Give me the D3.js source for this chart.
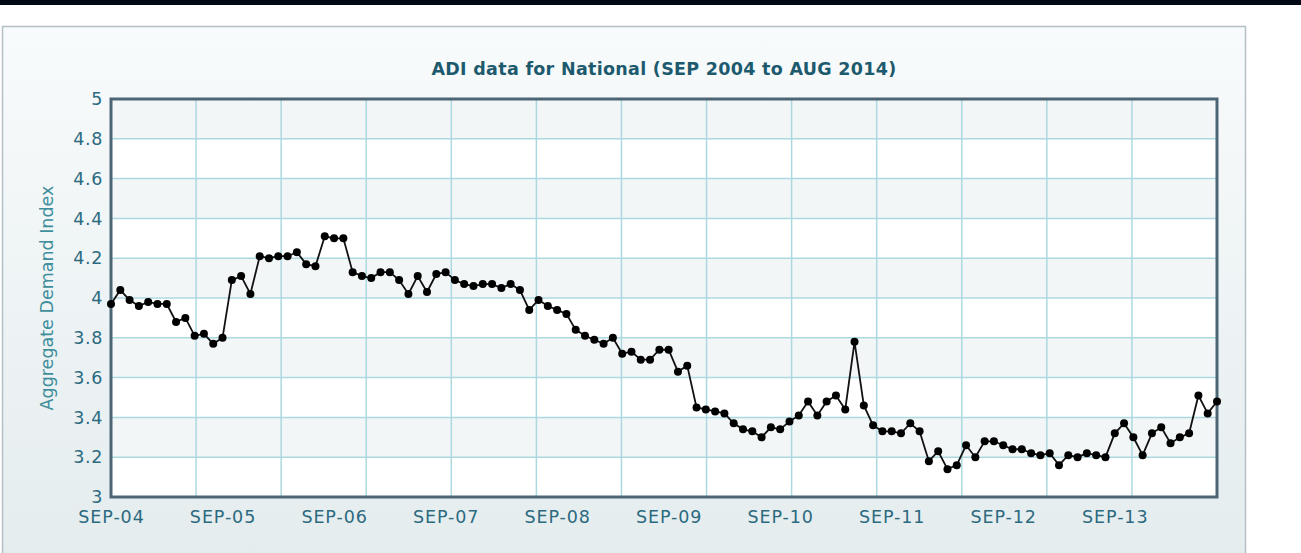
<!DOCTYPE html>
<html>
<head>
<meta charset="utf-8">
<script src="https://cdn.jsdelivr.net/npm/d3@7"></script>
<style>
  body { margin: 0; background: #fff; }
  svg { display: block; font-family: "DejaVu Sans", Verdana, sans-serif; }
</style>
</head>
<body>
<svg id="chart"></svg>
<script>
// ADI monthly values, SEP 2004 .. AUG 2014 (120 months)
var adiValues = [
  3.97, 4.04, 3.99, 3.96, 3.98, 3.97, 3.97, 3.88, 3.90, 3.81, 3.82, 3.77,
  3.80, 4.09, 4.11, 4.02, 4.21, 4.20, 4.21, 4.21, 4.23, 4.17, 4.16, 4.31,
  4.30, 4.30, 4.13, 4.11, 4.10, 4.13, 4.13, 4.09, 4.02, 4.11, 4.03, 4.12,
  4.13, 4.09, 4.07, 4.06, 4.07, 4.07, 4.05, 4.07, 4.04, 3.94, 3.99, 3.96,
  3.94, 3.92, 3.84, 3.81, 3.79, 3.77, 3.80, 3.72, 3.73, 3.69, 3.69, 3.74,
  3.74, 3.63, 3.66, 3.45, 3.44, 3.43, 3.42, 3.37, 3.34, 3.33, 3.30, 3.35,
  3.34, 3.38, 3.41, 3.48, 3.41, 3.48, 3.51, 3.44, 3.78, 3.46, 3.36, 3.33,
  3.33, 3.32, 3.37, 3.33, 3.18, 3.23, 3.14, 3.16, 3.26, 3.20, 3.28, 3.28,
  3.26, 3.24, 3.24, 3.22, 3.21, 3.22, 3.16, 3.21, 3.20, 3.22, 3.21, 3.20,
  3.32, 3.37, 3.30, 3.21, 3.32, 3.35, 3.27, 3.30, 3.32, 3.51, 3.42, 3.48
];
var xTickLabels = ["SEP-04", "SEP-05", "SEP-06", "SEP-07", "SEP-08",
  "SEP-09", "SEP-10", "SEP-11", "SEP-12", "SEP-13"];
var yTicks = [3, 3.2, 3.4, 3.6, 3.8, 4, 4.2, 4.4, 4.6, 4.8, 5];
var chartTitle = "ADI data for National (SEP 2004 to AUG 2014)";
var yAxisTitle = "Aggregate Demand Index";

var width = 1301, height = 553;
var margins = { left: 111, right: 84, top: 99, bottom: 56 };
var numVDivs = 13;

var svg = d3.select("svg#chart").attr("width", width).attr("height", height);

var defs = svg.append("defs");
var grad = defs.append("linearGradient").attr("id", "panelBg")
  .attr("x1", 0).attr("y1", 0).attr("x2", 0).attr("y2", 1);
grad.append("stop").attr("offset", "0%").attr("stop-color", "#f8fbfc");
grad.append("stop").attr("offset", "100%").attr("stop-color", "#e4ecee");

// dark strip at the very top
svg.append("rect").attr("x", 0).attr("y", 0).attr("width", width).attr("height", 5)
  .attr("fill", "#000814");

// chart panel
svg.append("rect")
  .attr("x", 2.5).attr("y", 26.5)
  .attr("width", 1243).attr("height", 540)
  .attr("fill", "url(#panelBg)")
  .attr("stroke", "#b4c0c8").attr("stroke-width", 1.5);

var xScale = d3.scaleLinear()
  .domain([0, adiValues.length - 1])
  .range([margins.left, width - margins.right]);
var yScale = d3.scaleLinear()
  .domain([3, 5])
  .range([height - margins.bottom, margins.top]);
var divScale = d3.scaleLinear()
  .domain([0, numVDivs])
  .range(xScale.range());

var plot = svg.append("g").attr("id", "plotGroup");

// alternating horizontal bands
plot.selectAll("rect.band")
  .data(d3.range(yTicks.length - 1))
  .join("rect")
  .attr("class", "band")
  .attr("x", xScale.range()[0])
  .attr("width", xScale.range()[1] - xScale.range()[0])
  .attr("y", (k) => yScale(yTicks[k + 1]))
  .attr("height", (k) => yScale(yTicks[k]) - yScale(yTicks[k + 1]))
  .attr("fill", (k) => (k % 2 === 1 ? "#f2f6f7" : "#ffffff"));

// grid lines
plot.selectAll("line.hgrid")
  .data(yTicks.slice(1, -1))
  .join("line")
  .attr("class", "hgrid")
  .attr("x1", xScale.range()[0]).attr("x2", xScale.range()[1])
  .attr("y1", (d) => yScale(d)).attr("y2", (d) => yScale(d))
  .attr("stroke", "#acd9e0").attr("stroke-width", 1.5);

plot.selectAll("line.vgrid")
  .data(d3.range(1, numVDivs))
  .join("line")
  .attr("class", "vgrid")
  .attr("x1", (d) => divScale(d)).attr("x2", (d) => divScale(d))
  .attr("y1", yScale(5)).attr("y2", yScale(3))
  .attr("stroke", "#acd9e0").attr("stroke-width", 1.5);

// plot border
plot.append("rect")
  .attr("x", xScale.range()[0]).attr("y", yScale(5))
  .attr("width", xScale.range()[1] - xScale.range()[0])
  .attr("height", yScale(3) - yScale(5))
  .attr("fill", "none")
  .attr("stroke", "#4c6676").attr("stroke-width", 3);

// y axis labels
var yAxis = d3.axisLeft(yScale)
  .tickValues(yTicks)
  .tickSize(0)
  .tickPadding(8)
  .tickFormat((d) => String(+d.toFixed(1)));
svg.append("g")
  .attr("transform", `translate(${margins.left},0)`)
  .call(yAxis)
  .call((g) => g.select(".domain").remove())
  .selectAll("text")
  .attr("font-family", "DejaVu Sans")
  .attr("font-size", 17.5)
  .attr("letter-spacing", 0.6)
  .attr("fill", "#2c6a80");

// x axis labels
var xAxis = d3.axisBottom(xScale)
  .tickValues(d3.range(0, xTickLabels.length * 12, 12))
  .tickSize(0)
  .tickPadding(14)
  .tickFormat((d, i) => xTickLabels[i]);
svg.append("g")
  .attr("transform", `translate(0,${height - margins.bottom})`)
  .call(xAxis)
  .call((g) => g.select(".domain").remove())
  .selectAll("text")
  .attr("font-family", "DejaVu Sans")
  .attr("font-size", 17.5)
  .attr("letter-spacing", 0.9)
  .attr("fill", "#2c6a80");

// data line + markers
var line = d3.line()
  .x((d, i) => xScale(i))
  .y((d) => yScale(d));

svg.append("path")
  .datum(adiValues)
  .attr("d", line)
  .attr("fill", "none")
  .attr("stroke", "#111")
  .attr("stroke-width", 1.8);

svg.append("g")
  .selectAll("circle")
  .data(adiValues)
  .join("circle")
  .attr("cx", (d, i) => xScale(i))
  .attr("cy", (d) => yScale(d))
  .attr("r", 4)
  .attr("fill", "#000");

// titles
svg.append("text")
  .attr("x", (xScale.range()[0] + xScale.range()[1]) / 2)
  .attr("y", 75)
  .attr("text-anchor", "middle")
  .attr("font-size", 17.5)
  .attr("font-weight", "bold")
  .attr("letter-spacing", 0.3)
  .attr("fill", "#1d5a6e")
  .text(chartTitle);

svg.append("text")
  .attr("transform", `translate(53,${(yScale(3) + yScale(5)) / 2}) rotate(-90)`)
  .attr("text-anchor", "middle")
  .attr("font-size", 17.5)
  .attr("fill", "#3e8e9c")
  .text(yAxisTitle);
</script>
</body>
</html>
